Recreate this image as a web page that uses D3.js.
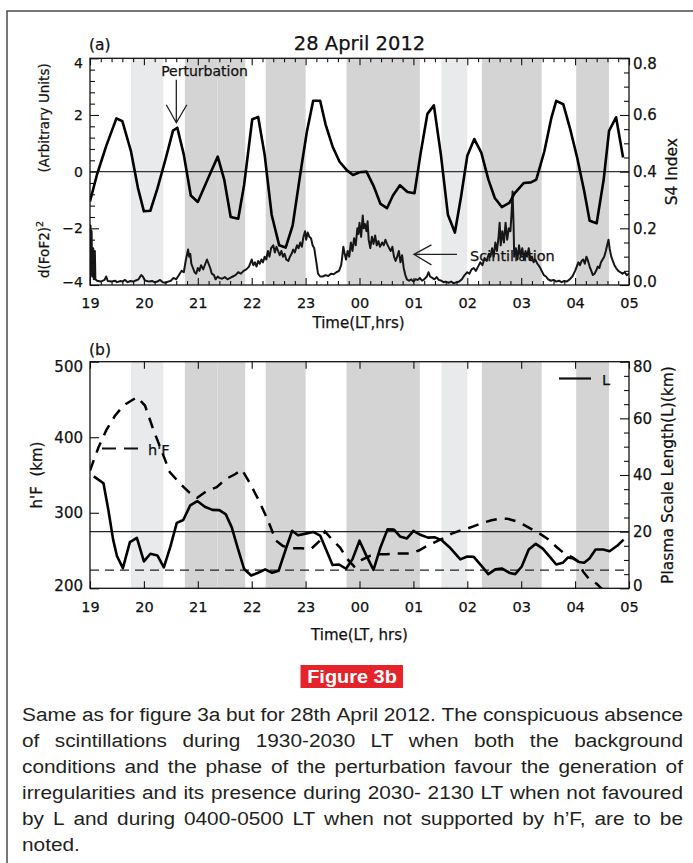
<!DOCTYPE html>
<html>
<head>
<meta charset="utf-8">
<script src="https://cdn.jsdelivr.net/npm/d3@7"></script>
<style>
  body { margin: 0; background: #fff; }
  svg { display: block; }
  .lbl { stroke: #111; stroke-width: 0.25px; }
</style>
</head>
<body>
<svg id="fig" width="693" height="863"></svg>
<script>
// ---- Local time axis (hours after 19 LT; 24+ wraps past midnight) ----
const hourTicks = [19, 20, 21, 22, 23, 24, 25, 26, 27, 28, 29];
const hourLabels = ["19", "20", "21", "22", "23", "00", "01", "02", "03", "04", "05"];

// ---- Shaded intervals [start, end] in hours ----
const lightBands = [[19.76, 20.36], [25.52, 26.0]];
const darkBands = [[20.76, 21.37], [21.37, 21.88], [22.26, 23.0], [23.76, 25.12], [26.27, 27.38], [28.02, 28.63]];

// ---- Panel (a): perturbation d(FoF2)^2, arbitrary units ----
const perturbation = [
  [19.00,-1.05],[19.13,-0.10],[19.30,0.90],[19.49,1.88],[19.60,1.78],[19.76,0.72],[19.89,-0.58],
  [20.00,-1.40],[20.12,-1.38],[20.25,-0.60],[20.41,0.50],[20.54,1.45],[20.62,1.55],[20.74,0.60],
  [20.87,-0.84],[21.00,-1.07],[21.20,-0.20],[21.37,0.53],[21.49,-0.28],[21.61,-1.60],[21.75,-1.66],
  [21.86,-0.46],[22.01,1.85],[22.12,1.93],[22.24,0.60],[22.37,-1.52],[22.51,-2.60],[22.63,-2.68],
  [22.76,-1.90],[22.90,-0.10],[23.02,1.37],[23.14,2.50],[23.27,2.50],[23.37,1.67],[23.50,0.89],
  [23.63,0.35],[23.76,0.06],[23.88,-0.12],[24.00,-0.02],[24.13,0.00],[24.26,-0.50],[24.39,-1.14],
  [24.51,-1.29],[24.62,-0.84],[24.75,-0.48],[24.89,-0.72],[25.02,-0.76],[25.13,0.60],[25.26,2.04],
  [25.38,2.34],[25.51,0.60],[25.64,-1.52],[25.77,-2.15],[25.88,-0.93],[26.00,0.56],[26.13,1.15],
  [26.26,0.67],[26.39,-0.27],[26.51,-0.93],[26.64,-1.25],[26.78,-1.10],[26.88,-0.76],[27.05,-0.40],
  [27.18,-0.38],[27.28,-0.28],[27.43,0.72],[27.56,1.90],[27.65,2.50],[27.78,2.38],[27.91,1.49],
  [28.04,0.48],[28.17,-0.70],[28.27,-1.73],[28.40,-1.82],[28.53,-0.28],[28.63,1.44],[28.76,1.92],
  [28.89,0.50]
];

// ---- Panel (a): amplitude scintillation index S4 ----
const s4Index = [
  [19.00,0.02],[19.01,0.21],[19.02,0.06],[19.03,0.19],[19.04,0.03],[19.06,0.13],[19.07,0.02],
  [19.09,0.12],[19.10,0.02],[19.13,0.015],[19.20,0.012],[19.27,0.018],[19.30,0.03],[19.33,0.014],
  [19.40,0.012],[19.47,0.015],[19.50,0.01],[19.57,0.014],[19.60,0.012],[19.65,0.018],[19.70,0.01],
  [19.75,0.014],[19.80,0.012],[19.85,0.016],[19.90,0.02],[19.95,0.035],[19.98,0.03],[20.02,0.016],
  [20.10,0.012],[20.15,0.014],[20.20,0.01],[20.25,0.012],[20.30,0.018],[20.35,0.01],[20.40,0.008],
  [20.45,0.012],[20.50,0.015],[20.55,0.025],[20.60,0.02],[20.65,0.035],[20.70,0.05],[20.74,0.045],
  [20.78,0.09],[20.82,0.125],[20.84,0.10],[20.86,0.11],[20.88,0.075],[20.91,0.06],[20.94,0.045],
  [20.97,0.04],[21.00,0.06],[21.03,0.05],[21.06,0.07],[21.10,0.055],[21.14,0.075],[21.17,0.09],
  [21.20,0.075],[21.23,0.06],[21.26,0.04],[21.30,0.035],[21.33,0.02],[21.37,0.03],[21.40,0.025],
  [21.45,0.022],[21.50,0.028],[21.55,0.02],[21.60,0.025],[21.65,0.03],[21.70,0.035],[21.75,0.045],
  [21.80,0.04],[21.85,0.05],[21.90,0.055],[21.95,0.065],[22.00,0.09],[22.03,0.07],[22.06,0.08],
  [22.09,0.065],[22.12,0.085],[22.15,0.075],[22.18,0.09],[22.21,0.08],[22.24,0.10],[22.27,0.09],
  [22.30,0.12],[22.33,0.10],[22.36,0.13],[22.40,0.14],[22.43,0.115],[22.46,0.135],[22.49,0.12],
  [22.52,0.105],[22.55,0.12],[22.58,0.10],[22.61,0.11],[22.64,0.09],[22.68,0.085],[22.71,0.10],
  [22.74,0.11],[22.77,0.125],[22.80,0.115],[22.84,0.14],[22.87,0.13],[22.90,0.15],[22.93,0.135],
  [22.96,0.17],[22.99,0.19],[23.01,0.16],[23.04,0.185],[23.07,0.17],[23.10,0.165],[23.13,0.14],
  [23.16,0.13],[23.20,0.08],[23.23,0.04],[23.27,0.03],[23.32,0.03],[23.37,0.035],[23.42,0.032],
  [23.47,0.04],[23.52,0.038],[23.57,0.045],[23.62,0.05],[23.66,0.07],[23.68,0.10],[23.70,0.135],
  [23.72,0.115],[23.75,0.09],[23.78,0.12],[23.81,0.10],[23.84,0.15],[23.87,0.12],[23.90,0.165],
  [23.93,0.14],[23.96,0.20],[23.98,0.18],[24.00,0.22],[24.03,0.17],[24.06,0.245],[24.08,0.20],
  [24.10,0.215],[24.13,0.19],[24.15,0.225],[24.17,0.16],[24.20,0.13],[24.23,0.17],[24.26,0.145],
  [24.29,0.175],[24.32,0.14],[24.35,0.155],[24.38,0.135],[24.42,0.15],[24.45,0.14],[24.48,0.16],
  [24.51,0.145],[24.55,0.13],[24.58,0.12],[24.61,0.135],[24.64,0.10],[24.67,0.085],[24.70,0.10],
  [24.73,0.12],[24.76,0.08],[24.79,0.105],[24.82,0.06],[24.85,0.035],[24.88,0.02],[24.92,0.015],
  [24.96,0.02],[25.00,0.012],[25.04,0.02],[25.08,0.018],[25.12,0.025],[25.16,0.015],[25.20,0.02],
  [25.25,0.03],[25.28,0.045],[25.31,0.03],[25.35,0.025],[25.39,0.02],[25.43,0.028],[25.47,0.018],
  [25.52,0.015],[25.56,0.01],[25.60,0.012],[25.65,0.008],[25.70,0.012],[25.75,0.006],[25.80,0.01],
  [25.85,0.012],[25.90,0.02],[25.95,0.035],[26.00,0.045],[26.04,0.04],[26.08,0.055],[26.12,0.06],
  [26.16,0.05],[26.20,0.065],[26.24,0.08],[26.28,0.07],[26.32,0.095],[26.36,0.085],[26.40,0.11],
  [26.43,0.10],[26.46,0.13],[26.49,0.10],[26.52,0.15],[26.55,0.12],[26.58,0.17],[26.60,0.22],
  [26.62,0.14],[26.65,0.19],[26.68,0.15],[26.71,0.22],[26.74,0.16],[26.77,0.20],[26.80,0.19],
  [26.82,0.25],[26.84,0.33],[26.86,0.20],[26.87,0.10],[26.90,0.13],[26.93,0.09],[26.96,0.14],
  [26.99,0.10],[27.02,0.13],[27.05,0.09],[27.08,0.12],[27.11,0.10],[27.14,0.13],[27.17,0.09],
  [27.20,0.10],[27.23,0.08],[27.26,0.09],[27.30,0.075],[27.34,0.065],[27.38,0.05],[27.42,0.035],
  [27.46,0.03],[27.50,0.02],[27.55,0.015],[27.60,0.018],[27.65,0.012],[27.70,0.015],[27.75,0.01],
  [27.80,0.014],[27.85,0.012],[27.90,0.02],[27.95,0.03],[28.00,0.05],[28.03,0.065],[28.06,0.08],
  [28.09,0.07],[28.12,0.085],[28.15,0.09],[28.18,0.075],[28.21,0.10],[28.24,0.085],[28.27,0.065],
  [28.30,0.05],[28.33,0.035],[28.36,0.04],[28.39,0.05],[28.42,0.065],[28.45,0.06],[28.48,0.08],
  [28.51,0.09],[28.54,0.10],[28.57,0.12],[28.60,0.145],[28.62,0.16],[28.64,0.13],[28.67,0.10],
  [28.70,0.085],[28.73,0.07],[28.76,0.06],[28.80,0.05],[28.84,0.045],[28.88,0.04],[28.92,0.045],
  [28.96,0.035],[29.00,0.04]
];

// ---- Panel (b): virtual height h'F (km) ----
const hPrimeF = [
  [19.00,356],[19.16,387],[19.30,409],[19.46,428],[19.62,442],[19.87,453],[20.02,442],[20.18,409],
  [20.35,378],[20.48,354],[20.68,338],[20.84,327],[20.99,320],[21.17,329],[21.35,334],[21.53,345],
  [21.69,351],[21.82,357],[21.96,340],[22.12,318],[22.29,292],[22.45,263],[22.58,256],[22.75,253],
  [22.91,253],[23.10,252],[23.25,262],[23.36,275],[23.50,264],[23.64,254],[23.76,240],[23.90,229],
  [24.05,238],[24.20,243],[24.35,245],[24.50,245],[24.65,246],[24.80,246],[24.95,246],[25.10,250],
  [25.25,256],[25.40,261],[25.55,266],[25.70,272],[25.85,276],[26.00,279],[26.15,283],[26.30,287],
  [26.45,290],[26.60,292],[26.75,292],[26.90,289],[27.05,284],[27.20,278],[27.35,272],[27.50,265],
  [27.65,255],[27.80,246],[27.95,241],[28.05,236],[28.15,222],[28.25,213],[28.40,206],[28.50,199],
  [28.60,190]
];

// ---- Panel (b): plasma scale length L (km) ----
const scaleLength = [
  [19.07,39.5],[19.25,37.1],[19.34,27.7],[19.43,17.1],[19.50,11.4],[19.61,7.1],[19.74,16.3],
  [19.87,17.8],[20.00,9.5],[20.12,12.2],[20.25,11.6],[20.37,7.4],[20.49,14.6],[20.61,23.1],
  [20.73,24.1],[20.86,29.3],[20.99,30.8],[21.13,28.8],[21.27,27.7],[21.40,27.6],[21.52,26.1],
  [21.63,21.5],[21.74,14.3],[21.86,6.8],[21.99,4.5],[22.12,5.5],[22.25,6.7],[22.38,5.5],[22.50,6.2],
  [22.63,13.7],[22.75,20.3],[22.86,18.7],[23.00,19.3],[23.14,19.9],[23.27,18.6],[23.50,8.2],
  [23.62,8.4],[23.75,6.9],[23.87,10.3],[24.00,16.8],[24.12,11.8],[24.26,6.5],[24.39,14.5],
  [24.52,20.8],[24.64,20.7],[24.75,18.3],[24.88,17.6],[25.00,20.3],[25.14,18.8],[25.27,17.9],
  [25.40,18.0],[25.53,16.9],[25.67,14.5],[25.87,10.2],[26.00,11.2],[26.12,11.1],[26.26,8.0],
  [26.39,5.0],[26.52,6.7],[26.64,7.0],[26.79,5.4],[26.89,5.0],[27.01,7.7],[27.14,13.7],[27.27,15.7],
  [27.40,14.0],[27.54,10.9],[27.65,8.4],[27.77,9.0],[27.87,10.9],[27.97,10.5],[28.07,9.3],
  [28.17,9.0],[28.27,10.6],[28.38,13.7],[28.52,13.7],[28.64,13.1],[28.78,15.0],[28.90,17.2]
];

// reference levels drawn across panel (b)
const lThreshold = 20;      // L (km), solid
const hfThreshold = 224;    // h'F (km), dashed

const captionLines = [
  "Same as for figure 3a but for 28th April 2012. The conspicuous absence",
  "of scintillations during 1930-2030 LT when both the background",
  "conditions and the phase of the perturbation favour the generation of",
  "irregularities and its presence during 2030- 2130 LT when not favoured",
  "by L and during 0400-0500 LT when not supported by h\u2019F, are to be",
  "noted."
];

// ---------------- drawing ----------------
const FONT = "'DejaVu Sans', Verdana, sans-serif";
const LEFT = 90, RIGHT = 629;
const A_TOP = 58.3, A_BOT = 285;
const B_TOP = 361.7, B_BOT = 588.3;

const svg = d3.select("#fig");
svg.append("rect").attr("width", 693).attr("height", 863).attr("fill", "#fff");

// page border (left and top edges)
svg.append("path").attr("d", "M7,863 V11 H693")
  .attr("fill", "none").attr("stroke", "#4a4a4a").attr("stroke-width", 1.5);

const x = d3.scaleLinear().domain([19, 29]).range([LEFT, RIGHT]);
const yPert = d3.scaleLinear().domain([-4, 4]).range([A_BOT, A_TOP]);
const yS4 = d3.scaleLinear().domain([0, 0.8]).range([A_BOT, A_TOP]);
const yHF = d3.scaleLinear().domain([200, 500]).range([B_BOT, B_TOP]);
const yL = d3.scaleLinear().domain([0, 80]).range([B_BOT, B_TOP]);

const minorHours = d3.range(19, 29.001, 0.2).map(v => +v.toFixed(2)).filter(v => Math.abs(v - Math.round(v)) > 1e-6);

function styleAxis(a, size) {
  a.select(".domain").remove();
  a.attr("font-family", null).attr("font-size", null);
  a.selectAll(".tick line").attr("stroke", "#111").attr("stroke-width", 1.1);
  a.selectAll("text").attr("class", "lbl").attr("font-family", FONT).attr("font-size", size || 14).attr("fill", "#111");
  return a;
}

function addAxis(g, gen, tx, ty) {
  return styleAxis(g.append("g").attr("transform", `translate(${tx},${ty})`).call(gen));
}

function drawBands(g, top, bot) {
  const h = bot - top;
  g.selectAll(null).data(lightBands).join("rect")
    .attr("x", d => x(d[0])).attr("width", d => x(d[1]) - x(d[0]))
    .attr("y", top).attr("height", h).attr("fill", "#e9eaeb");
  g.selectAll(null).data(darkBands).join("rect")
    .attr("x", d => x(d[0])).attr("width", d => x(d[1]) - x(d[0]))
    .attr("y", top).attr("height", h).attr("fill", "#d4d4d4");
}

function xAxes(g, top, bot, withMinor) {
  const lab = addAxis(g, d3.axisBottom(x).tickValues(hourTicks)
    .tickFormat((d, i) => hourLabels[i]).tickSize(-7).tickPadding(13), 0, bot);
  addAxis(g, d3.axisTop(x).tickValues(hourTicks).tickFormat("").tickSize(-7), 0, top);
  if (withMinor) {
    addAxis(g, d3.axisBottom(x).tickValues(minorHours).tickFormat("").tickSize(-4), 0, bot);
    addAxis(g, d3.axisTop(x).tickValues(minorHours).tickFormat("").tickSize(-4), 0, top);
  }
  lab.selectAll("text").attr("font-size", 14.5);
}

// keep outermost y labels inside the frame a little
function nudgeEnds(a, domain) {
  a.selectAll(".tick text").attr("y", d => d === domain[1] ? 5 : (d === domain[0] ? -3 : 0));
}

function label(g, text, size) {
  return g.append("text").attr("class", "lbl").attr("font-family", FONT)
    .attr("font-size", size).attr("fill", "#111").text(text);
}

const defs = svg.append("defs");
defs.append("clipPath").attr("id", "clipA").append("rect")
  .attr("x", LEFT).attr("y", A_TOP).attr("width", RIGHT - LEFT).attr("height", A_BOT - A_TOP);
defs.append("clipPath").attr("id", "clipB").append("rect")
  .attr("x", LEFT).attr("y", B_TOP).attr("width", RIGHT - LEFT).attr("height", B_BOT - B_TOP);

// =============== Panel (a) ===============
const gA = svg.append("g");
drawBands(gA, A_TOP, A_BOT);

gA.append("line").attr("x1", LEFT).attr("x2", RIGHT)
  .attr("y1", yPert(0)).attr("y2", yPert(0)).attr("stroke", "#333").attr("stroke-width", 1.3);

// annotations
const pertPeak = perturbation[12];
const pTipX = x(pertPeak[0]) - 1, pTipY = yPert(pertPeak[1]) - 5;
label(gA, "Perturbation", 14).attr("x", x(20.32)).attr("y", yPert(3.38));
gA.append("path")
  .attr("d", `M${pTipX},${pTipY - 43} V${pTipY} M${pTipX - 10},${pTipY - 18} L${pTipX},${pTipY} L${pTipX + 10.5},${pTipY - 18}`)
  .attr("fill", "none").attr("stroke", "#222").attr("stroke-width", 1.3);

const sTipX = x(25.01), sTipY = yS4(0.108);
gA.append("path")
  .attr("d", `M${sTipX + 43},${sTipY} H${sTipX} M${sTipX + 17.5},${sTipY - 9.5} L${sTipX},${sTipY} L${sTipX + 17.5},${sTipY + 10.5}`)
  .attr("fill", "none").attr("stroke", "#222").attr("stroke-width", 1.3);
label(gA, "Scintillation", 14.5).attr("x", x(26.05)).attr("y", yS4(0.085));

const lineA = gA.append("g").attr("clip-path", "url(#clipA)");
lineA.append("path").datum(s4Index)
  .attr("d", d3.line().x(d => x(d[0])).y(d => yS4(d[1])))
  .attr("fill", "none").attr("stroke", "#161616").attr("stroke-width", 2.0).attr("stroke-linejoin", "round");
lineA.append("path").datum(perturbation)
  .attr("d", d3.line().x(d => x(d[0])).y(d => yPert(d[1])))
  .attr("fill", "none").attr("stroke", "#000").attr("stroke-width", 2.6).attr("stroke-linejoin", "round");

gA.append("rect").attr("x", LEFT).attr("y", A_TOP).attr("width", RIGHT - LEFT).attr("height", A_BOT - A_TOP)
  .attr("fill", "none").attr("stroke", "#111").attr("stroke-width", 1.3);

xAxes(gA, A_TOP, A_BOT, true);
const aLeft = addAxis(gA, d3.axisLeft(yPert).tickValues([-4, -2, 0, 2, 4]).tickFormat(d3.format("d")).tickSize(-9).tickPadding(7), LEFT, 0);
nudgeEnds(aLeft, [-4, 4]);
addAxis(gA, d3.axisLeft(yPert).tickValues(d3.range(-3.6, 4, 0.4).map(v => +v.toFixed(1)).filter(v => Math.abs(v % 2) > 1e-6)).tickFormat("").tickSize(-5), LEFT, 0);
const aRight = addAxis(gA, d3.axisRight(yS4).tickValues([0, 0.2, 0.4, 0.6, 0.8]).tickFormat(d3.format(".1f")).tickSize(-9).tickPadding(4), RIGHT, 0);
nudgeEnds(aRight, [0, 0.8]);
aRight.selectAll("text").attr("font-size", 15);
addAxis(gA, d3.axisRight(yS4).tickValues(d3.range(0.05, 0.8, 0.05).map(v => +v.toFixed(2)).filter(v => Math.abs((v * 10) % 2) > 1e-6)).tickFormat("").tickSize(-5), RIGHT, 0);

// titles and axis labels
label(gA, "(a)", 15.5).attr("x", 89).attr("y", 50);
label(gA, "28 April 2012", 19.5).attr("x", (LEFT + RIGHT) / 2).attr("y", 50).attr("text-anchor", "middle");
const yLab = label(gA, "", 13.5).attr("transform", `translate(49,${A_BOT - 7}) rotate(-90)`);
yLab.append("tspan").text("d(FoF2)");
yLab.append("tspan").attr("font-size", 9.5).attr("dy", -6).text("2");
label(gA, "(Arbitrary Units)", 13.5).attr("transform", `translate(49,${A_TOP + 5}) rotate(-90)`).attr("text-anchor", "end");
label(gA, "S4 Index", 15.5).attr("transform", `translate(677,${(A_TOP + A_BOT) / 2}) rotate(-90)`).attr("text-anchor", "middle");
label(gA, "Time(LT,hrs)", 15).attr("x", (LEFT + RIGHT) / 2 - 1).attr("y", 328).attr("text-anchor", "middle");

// =============== Panel (b) ===============
const gB = svg.append("g");
drawBands(gB, B_TOP, B_BOT);

gB.append("line").attr("x1", LEFT).attr("x2", RIGHT)
  .attr("y1", yL(lThreshold)).attr("y2", yL(lThreshold)).attr("stroke", "#222").attr("stroke-width", 1.3);
gB.append("line").attr("x1", LEFT).attr("x2", RIGHT)
  .attr("y1", yHF(hfThreshold)).attr("y2", yHF(hfThreshold)).attr("stroke", "#222").attr("stroke-width", 1.3)
  .attr("stroke-dasharray", "9,6");

// legends
gB.append("line").attr("x1", 102).attr("x2", 138).attr("y1", 448.5).attr("y2", 448.5)
  .attr("stroke", "#111").attr("stroke-width", 2.2).attr("stroke-dasharray", "14,8");
label(gB, "h'F", 14.5).attr("x", 148).attr("y", 455);
gB.append("line").attr("x1", 559).attr("x2", 591).attr("y1", 378.5).attr("y2", 378.5)
  .attr("stroke", "#111").attr("stroke-width", 2.2);
label(gB, "L", 14.5).attr("x", 602).attr("y", 385);

const lineB = gB.append("g").attr("clip-path", "url(#clipB)");
lineB.append("path").datum(hPrimeF)
  .attr("d", d3.line().x(d => x(d[0])).y(d => yHF(d[1])))
  .attr("fill", "none").attr("stroke", "#000").attr("stroke-width", 2.5).attr("stroke-dasharray", "11,8");
lineB.append("path").datum(scaleLength)
  .attr("d", d3.line().x(d => x(d[0])).y(d => yL(d[1])))
  .attr("fill", "none").attr("stroke", "#000").attr("stroke-width", 2.6).attr("stroke-linejoin", "round");

gB.append("rect").attr("x", LEFT).attr("y", B_TOP).attr("width", RIGHT - LEFT).attr("height", B_BOT - B_TOP)
  .attr("fill", "none").attr("stroke", "#111").attr("stroke-width", 1.3);

xAxes(gB, B_TOP, B_BOT, false);
const bLeft = addAxis(gB, d3.axisLeft(yHF).tickValues([200, 300, 400, 500]).tickFormat(d3.format("d")).tickSize(-9).tickPadding(7), LEFT, 0);
nudgeEnds(bLeft, [200, 500]);
bLeft.selectAll("text").attr("font-size", 15);
const bRight = addAxis(gB, d3.axisRight(yL).tickValues([0, 20, 40, 60, 80]).tickFormat(d3.format("d")).tickSize(-9).tickPadding(4), RIGHT, 0);
nudgeEnds(bRight, [0, 80]);
bRight.selectAll("text").attr("font-size", 15);
addAxis(gB, d3.axisRight(yL).tickValues(d3.range(5, 80, 5).filter(v => v % 20 !== 0)).tickFormat("").tickSize(-5), RIGHT, 0);

label(gB, "(b)", 15.5).attr("x", 89).attr("y", 355);
label(gB, "h'F  (km)", 15).attr("transform", `translate(42,${(B_TOP + B_BOT) / 2}) rotate(-90)`)
  .attr("text-anchor", "middle").style("white-space", "pre");
label(gB, "Plasma Scale Length(L)(km)", 15.5).attr("transform", `translate(673,${(B_TOP + B_BOT) / 2}) rotate(-90)`)
  .attr("text-anchor", "middle");
label(gB, "Time(LT, hrs)", 15).attr("x", (LEFT + RIGHT) / 2).attr("y", 640)
  .attr("text-anchor", "middle").style("white-space", "pre");

// =============== Figure label and caption ===============
svg.append("rect").attr("x", 300.5).attr("y", 665).attr("width", 102.5).attr("height", 23).attr("fill", "#e5232a");
svg.append("text").attr("transform", "translate(352,683) scale(1.12,1)").attr("text-anchor", "middle")
  .attr("font-family", "'Liberation Sans', Arial, sans-serif").attr("font-weight", "bold")
  .attr("font-size", 17.8).attr("fill", "#fff").text("Figure 3b");

const CAP_X0 = 22, CAP_X1 = 683, CAP_SX = 1.12;
const capG = svg.append("g").attr("transform", `translate(${CAP_X0},0) scale(${CAP_SX},1)`)
  .attr("font-family", "'Liberation Sans', Arial, sans-serif").attr("font-size", 18.6).attr("fill", "#231f20");
const capWidth = (CAP_X1 - CAP_X0) / CAP_SX;
captionLines.forEach((line, i) => {
  const yb = 721.5 + i * 25.9;
  if (i === captionLines.length - 1) {
    capG.append("text").attr("x", 0).attr("y", yb).text(line);
    return;
  }
  const words = line.split(" ");
  const nodes = words.map(w => capG.append("text").attr("y", yb).text(w));
  const widths = nodes.map(n => n.node().getComputedTextLength());
  const gap = (capWidth - d3.sum(widths)) / (words.length - 1);
  let cx = 0;
  nodes.forEach((n, k) => { n.attr("x", cx); cx += widths[k] + gap; });
});
</script>
</body>
</html>
